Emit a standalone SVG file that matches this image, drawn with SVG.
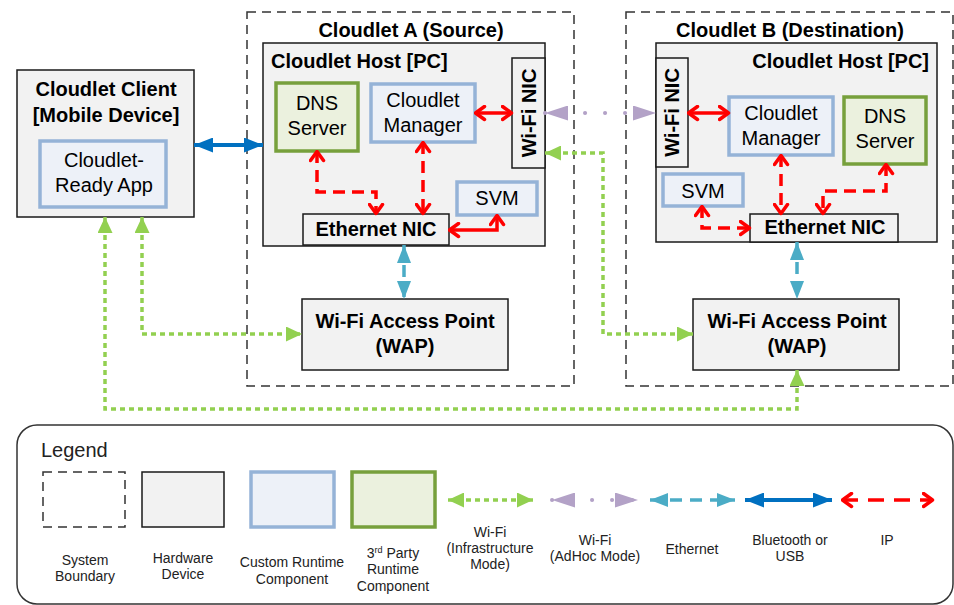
<svg xmlns="http://www.w3.org/2000/svg" width="954" height="605" viewBox="0 0 954 605">
<defs>
<style>
text{font-family:"Liberation Sans",Arial,sans-serif;fill:#000}
.b{font-weight:bold;font-size:20px}
.r{font-size:20px}
.l{font-size:14px;fill:#222}
.bound{fill:none;stroke:#333;stroke-width:1.5;stroke-dasharray:9,6}
.hw{fill:#f2f2f2;stroke:#1a1a1a;stroke-width:1.5}
.cu{fill:#edf1f8;stroke:#95b3d7;stroke-width:3.5}
.tp{fill:#ebf1de;stroke:#77a03c;stroke-width:3.5}
.g{fill:none;stroke:#92d050;stroke-width:3.5;stroke-dasharray:5,4;marker-start:url(#mg);marker-end:url(#mg)}
.p{fill:none;stroke:#b3a2c7;stroke-width:4;stroke-linecap:round;stroke-dasharray:0.1,19.9;marker-start:url(#mp);marker-end:url(#mp)}
.c{fill:none;stroke:#4bacc6;stroke-width:3.5;stroke-dasharray:12,8;marker-start:url(#mc);marker-end:url(#mc)}
.bl{fill:none;stroke:#0070c0;stroke-width:4;marker-start:url(#mb);marker-end:url(#mb)}
.ip{fill:none;stroke:#ff0000;stroke-width:3.5;stroke-dasharray:12,7;marker-start:url(#mr);marker-end:url(#mr)}
.ips{fill:none;stroke:#ff0000;stroke-width:3.5;marker-start:url(#mr);marker-end:url(#mr)}
</style>
<marker id="mg" viewBox="0 0 16 15" refX="16" refY="7.5" markerWidth="16" markerHeight="15" markerUnits="userSpaceOnUse" orient="auto-start-reverse"><path d="M0,0 L16,7.5 L0,15z" fill="#92d050"/></marker>
<marker id="mp" viewBox="0 0 23 15" refX="23" refY="7.5" markerWidth="23" markerHeight="15" markerUnits="userSpaceOnUse" orient="auto-start-reverse"><path d="M0,0 L23,7.5 L0,15z" fill="#b3a2c7"/></marker>
<marker id="mc" viewBox="0 0 18 14" refX="18" refY="7" markerWidth="18" markerHeight="14" markerUnits="userSpaceOnUse" orient="auto-start-reverse"><path d="M0,0 L18,7 L0,14z" fill="#4bacc6"/></marker>
<marker id="mb" viewBox="0 0 19 15" refX="19" refY="7.5" markerWidth="19" markerHeight="15" markerUnits="userSpaceOnUse" orient="auto-start-reverse"><path d="M0,0 L19,7.5 L0,15z" fill="#0070c0"/></marker>
<marker id="mr" viewBox="0 0 13 17" refX="11.5" refY="8.5" markerWidth="13" markerHeight="17" markerUnits="userSpaceOnUse" orient="auto-start-reverse"><path d="M2,2 L11,8.5 L2,15" fill="none" stroke="#ff0000" stroke-width="3.5" stroke-linecap="round" stroke-linejoin="round"/></marker>
</defs>
<rect width="954" height="605" fill="#fff"/>

<g id="cloudletA">
<rect class="bound" x="247" y="12" width="327" height="374"/>
<text class="b" x="411" y="37" text-anchor="middle">Cloudlet A (Source)</text>
</g>
<g id="cloudletB">
<rect class="bound" x="626" y="12" width="327" height="374"/>
<text class="b" x="790" y="37" text-anchor="middle">Cloudlet B (Destination)</text>
</g>

<g id="client">
<rect class="hw" x="17" y="70" width="177" height="147"/>
<text class="b" x="106" y="96" text-anchor="middle">Cloudlet Client</text>
<text class="b" x="106" y="122" text-anchor="middle">[Mobile Device]</text>
</g>
<g id="clientApp">
<rect class="cu" x="40" y="141" width="126" height="66"/>
<text class="r" x="104" y="167" text-anchor="middle">Cloudlet-</text>
<text class="r" x="104" y="192" text-anchor="middle">Ready App</text>
</g>

<g id="hostA">
<rect class="hw" x="263" y="43" width="282" height="203"/>
<text class="b" x="271" y="68">Cloudlet Host [PC]</text>
</g>
<g id="wifiNicA">
<rect class="hw" x="512" y="58" width="33" height="110"/>
<text class="b" transform="translate(528.5,113) rotate(-90)" x="0" y="7" text-anchor="middle">Wi-Fi NIC</text>
</g>
<g id="dnsA">
<rect class="tp" x="276" y="83" width="82" height="68"/>
<text class="r" x="317" y="110" text-anchor="middle">DNS</text>
<text class="r" x="317" y="135" text-anchor="middle">Server</text>
</g>
<g id="managerA">
<rect class="cu" x="371" y="84" width="104" height="58"/>
<text class="r" x="423" y="107" text-anchor="middle">Cloudlet</text>
<text class="r" x="423" y="132" text-anchor="middle">Manager</text>
</g>
<g id="svmA">
<rect class="cu" x="457" y="182" width="80" height="33"/>
<text class="r" x="497" y="205" text-anchor="middle">SVM</text>
</g>
<g id="ethA">
<rect class="hw" x="303" y="214" width="146" height="31"/>
<text class="b" x="376" y="236" text-anchor="middle">Ethernet NIC</text>
</g>
<g id="wapA">
<rect class="hw" x="302" y="299" width="206" height="71"/>
<text class="b" x="405" y="328" text-anchor="middle">Wi-Fi Access Point</text>
<text class="b" x="405" y="353" text-anchor="middle">(WAP)</text>
</g>

<g id="hostB">
<rect class="hw" x="656" y="43" width="281" height="199"/>
<text class="b" x="929" y="68" text-anchor="end">Cloudlet Host [PC]</text>
</g>
<g id="wifiNicB">
<rect class="hw" x="656" y="58" width="32" height="109"/>
<text class="b" transform="translate(672,112.5) rotate(-90)" x="0" y="7" text-anchor="middle">Wi-Fi NIC</text>
</g>
<g id="managerB">
<rect class="cu" x="729" y="97" width="104" height="58"/>
<text class="r" x="781" y="120" text-anchor="middle">Cloudlet</text>
<text class="r" x="781" y="145" text-anchor="middle">Manager</text>
</g>
<g id="dnsB">
<rect class="tp" x="844" y="97" width="82" height="67"/>
<text class="r" x="885" y="123" text-anchor="middle">DNS</text>
<text class="r" x="885" y="148" text-anchor="middle">Server</text>
</g>
<g id="svmB">
<rect class="cu" x="663" y="174" width="80" height="32"/>
<text class="r" x="703" y="198" text-anchor="middle">SVM</text>
</g>
<g id="ethB">
<rect class="hw" x="750" y="214" width="148" height="28"/>
<text class="b" x="825" y="234" text-anchor="middle">Ethernet NIC</text>
</g>
<g id="wapB">
<rect class="hw" x="693" y="299" width="206" height="71"/>
<text class="b" x="797" y="328" text-anchor="middle">Wi-Fi Access Point</text>
<text class="b" x="797" y="353" text-anchor="middle">(WAP)</text>
</g>

<g id="connectors">
<path class="bl" d="M194,145 H263"/>
<path class="g" d="M142,217 V334 H302"/>
<path class="g" d="M105,217 V409 H797 V370"/>
<path class="g" d="M545,153 H603 V334 H693"/>
<path class="p" d="M545,113 H656"/>
<path class="c" d="M404,245 V299"/>
<path class="c" d="M797,242 V299"/>
<path class="ips" d="M475,113 H512"/>
<path class="ip" d="M317,151 V192 H376 V214"/>
<path class="ip" d="M423,142 V214"/>
<path class="ips" d="M497,215 V230 H449"/>
<path class="ips" d="M688,113 H729"/>
<path class="ip" d="M781,155 V214"/>
<path class="ip" d="M886,164 V191 H823 V214"/>
<path class="ip" d="M702,206 V228 H750"/>
</g>

<g id="legend">
<rect x="17" y="425" width="936" height="179" rx="20" fill="none" stroke="#333" stroke-width="1.5"/>
<text x="41" y="457" style="font-size:20px;fill:#222">Legend</text>
<rect class="bound" x="43" y="472" width="82" height="55"/>
<rect class="hw" x="142" y="472" width="82" height="55"/>
<rect class="cu" x="251" y="472" width="83" height="55"/>
<rect class="tp" x="352" y="472" width="83" height="55"/>
<text class="l" x="85" y="565" text-anchor="middle">System</text>
<text class="l" x="85" y="581" text-anchor="middle">Boundary</text>
<text class="l" x="183" y="563" text-anchor="middle">Hardware</text>
<text class="l" x="183" y="579" text-anchor="middle">Device</text>
<text class="l" x="292" y="567" text-anchor="middle">Custom Runtime</text>
<text class="l" x="292" y="584" text-anchor="middle">Component</text>
<text class="l" x="393" y="558" text-anchor="middle">3<tspan font-size="9" baseline-shift="super">rd</tspan> Party</text>
<text class="l" x="393" y="574" text-anchor="middle">Runtime</text>
<text class="l" x="393" y="591" text-anchor="middle">Component</text>
<path class="g" d="M448,500 H533"/>
<path class="p" d="M552,500 H638"/>
<path class="c" d="M650,500 H735"/>
<path class="bl" d="M745,500 H832"/>
<path class="ip" style="stroke-dasharray:16,10" d="M842,500 H933"/>
<text class="l" x="490" y="537" text-anchor="middle">Wi-Fi</text>
<text class="l" x="490" y="553" text-anchor="middle">(Infrastructure</text>
<text class="l" x="490" y="569" text-anchor="middle">Mode)</text>
<text class="l" x="595" y="545" text-anchor="middle">Wi-Fi</text>
<text class="l" x="595" y="561" text-anchor="middle">(AdHoc Mode)</text>
<text class="l" x="692" y="554" text-anchor="middle">Ethernet</text>
<text class="l" x="790" y="545" text-anchor="middle">Bluetooth or</text>
<text class="l" x="790" y="561" text-anchor="middle">USB</text>
<text class="l" x="887" y="545" text-anchor="middle">IP</text>
</g>
</svg>
